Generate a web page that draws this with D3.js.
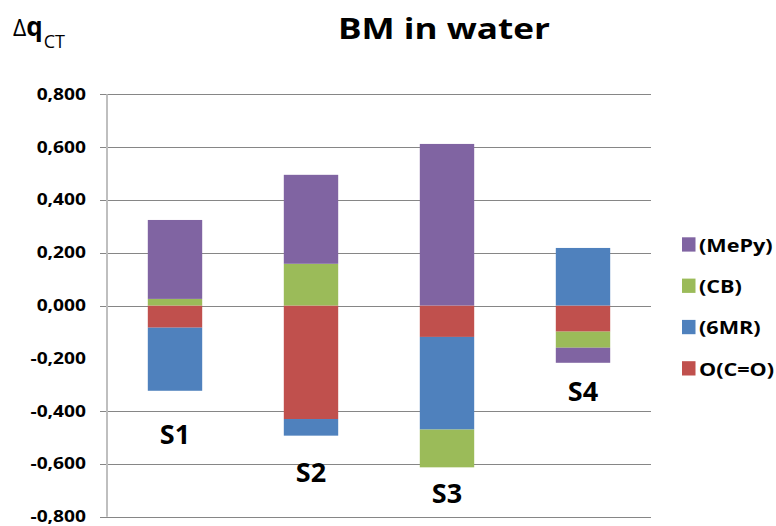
<!DOCTYPE html>
<html>
<head>
<meta charset="utf-8">
<script src="https://cdn.jsdelivr.net/npm/d3@7"></script>
<style>
  body { margin: 0; background: #fff; }
  text { font-family: "Open Sans", sans-serif; fill: #000; }
</style>
</head>
<body>
<div id="chart"></div>
<script>
(function(){

  //data
  var samples = ["S1", "S2", "S3", "S4"];
  var seriesKeys = ["O(C=O)", "(6MR)", "(CB)", "(MePy)"];   //stack order, bottom first
  var occo  = [-0.084, -0.430, -0.119, -0.099];
  var sixMR = [-0.239, -0.063, -0.351,  0.218];
  var cb    = [ 0.025,  0.158, -0.143, -0.061];
  var mepy  = [ 0.299,  0.337,  0.612, -0.057];
  var labelAt = [-0.525, -0.669, -0.747, -0.362];            //value where each S label sits
  var tickValues = [0.8, 0.6, 0.4, 0.2, 0, -0.4, -0.6, -0.8];  //no -0,200 gridline in the original
  var tickLabels = ["0,800", "0,600", "0,400", "0,200", "0,000", "-0,200", "-0,400", "-0,600", "-0,800"];
  var labelValues = [0.8, 0.6, 0.4, 0.2, 0, -0.2, -0.4, -0.6, -0.8];
  var colors = {"O(C=O)": "#C0504D", "(6MR)": "#4F81BD", "(CB)": "#9BBB59", "(MePy)": "#8064A2"};

  var width = 776, height = 526;
  var plotLeft = 107, plotRight = 651, plotTop = 94.3, plotBottom = 516.7;
  var stretch = 1.2;  //the original image is a bit wide

  var svg = d3.select("#chart").append("svg")
      .attr("width", width)
      .attr("height", height);

  //build rows for d3.stack
  var rows = samples.map(function(s, i){
    return {sample: s, "O(C=O)": occo[i], "(6MR)": sixMR[i], "(CB)": cb[i], "(MePy)": mepy[i], labelAt: labelAt[i]};
  });

  var y = d3.scaleLinear()
      .domain([-0.8, 0.8])
      .range([plotBottom, plotTop]);

  var x = d3.scaleBand()
      .domain(samples)
      .range([plotLeft, plotRight])
      .paddingInner(0.6)
      .paddingOuter(0.3);

  //helper for stretched text
  function stretchedText(g, px, py, str){
    return g.append("text")
        .attr("transform", "translate(" + px + "," + py + ") scale(" + stretch + ",1)")
        .text(str);
  }

  //gridlines (include the small tick left of the axis)
  svg.append("g").selectAll("line")
      .data(tickValues)
      .enter()
      .append("line")
      .attr("x1", plotLeft - 7)
      .attr("x2", plotRight)
      .attr("y1", function(d){ return Math.round(y(d)) + 0.5; })
      .attr("y2", function(d){ return Math.round(y(d)) + 0.5; })
      .attr("stroke", "#868686")
      .attr("stroke-width", 1);

  //tick labels
  var tl = svg.append("g")
      .attr("font-size", 16)
      .attr("font-weight", "bold")
      .attr("text-anchor", "end");
  labelValues.forEach(function(v, i){
    stretchedText(tl, 86, y(v) + 5.5, tickLabels[i]);
  });

  //vertical axis line
  svg.append("line")
      .attr("x1", plotLeft)
      .attr("x2", plotLeft)
      .attr("y1", plotTop)
      .attr("y2", plotBottom)
      .attr("stroke", "#BFBFBF")
      .attr("stroke-width", 2);

  //stacked bars
  var stack = d3.stack()
      .keys(seriesKeys)
      .offset(d3.stackOffsetDiverging);
  var series = stack(rows);

  svg.append("g").selectAll("g")
      .data(series)
      .enter()
      .append("g")
      .attr("fill", function(d){ return colors[d.key]; })
      .selectAll("rect")
      .data(function(d){ return d; })
      .enter()
      .append("rect")
      .attr("x", function(d){ return x(d.data.sample); })
      .attr("width", x.bandwidth())
      .attr("y", function(d){ return y(Math.max(d[0], d[1])); })
      .attr("height", function(d){ return Math.abs(y(d[0]) - y(d[1])); });

  //sample labels under the bars
  var sl = svg.append("g")
      .attr("font-size", 27)
      .attr("font-weight", "bold")
      .attr("text-anchor", "middle");
  rows.forEach(function(r){
    sl.append("text")
      .attr("x", x(r.sample) + x.bandwidth() / 2)
      .attr("y", y(r.labelAt))
      .text(r.sample);
  });

  //legend
  var legendKeys = seriesKeys.slice().reverse();
  var lg = svg.append("g");
  legendKeys.forEach(function(k, i){
    var ly = 237.3 + i * 41.3;
    lg.append("rect")
      .attr("x", 682)
      .attr("y", ly)
      .attr("width", 13.5)
      .attr("height", 14.3)
      .attr("fill", colors[k]);
    stretchedText(lg, 699, ly + 14.5, k)
      .attr("font-size", 18)
      .attr("font-weight", "bold");
  });

  //title
  svg.append("text")
      .attr("x", 338)
      .attr("y", 38.5)
      .attr("font-size", 29)
      .attr("font-weight", "bold")
      .attr("textLength", 212)
      .attr("lengthAdjust", "spacingAndGlyphs")
      .text("BM in water");

  //y axis title: delta q_CT
  var yt = svg.append("text")
      .attr("x", 13)
      .attr("y", 35.7);
  yt.append("tspan")
      .attr("font-size", 23)
      .text("\u0394");
  yt.append("tspan")
      .attr("font-size", 26)
      .attr("font-weight", "bold")
      .text("q");
  yt.append("tspan")
      .attr("font-size", 18)
      .attr("dy", 12.6)
      .attr("dx", 1)
      .text("CT");

})();
</script>
</body>
</html>
